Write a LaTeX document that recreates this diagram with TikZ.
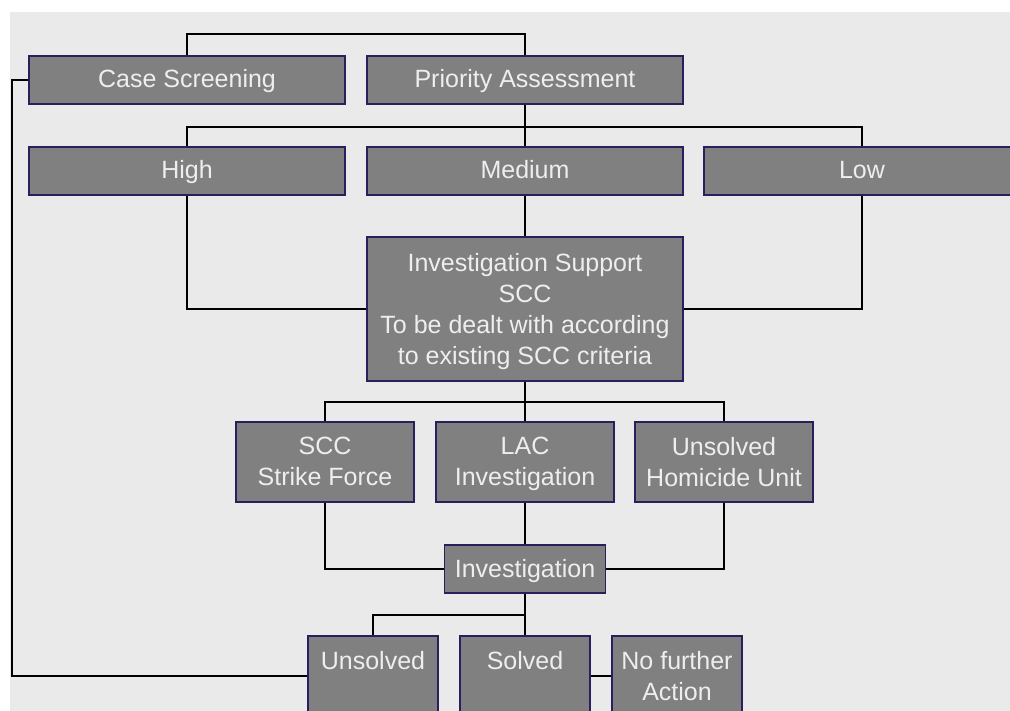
\documentclass[tikz,border=0pt]{standalone}
\usepackage{fontspec}
\setmainfont{Liberation Sans}
\usetikzlibrary{calc}

\definecolor{flowbg}{HTML}{EAEAEA}
\definecolor{flowfill}{HTML}{808080}
\definecolor{flowedge}{HTML}{2C1D5C}
\definecolor{flowtext}{HTML}{EEEEEE}

\newcommand\flowtextstyle{\fontsize{25}{31}\selectfont}
\newcommand\widewidth{316pt}
\newcommand\unitwidth{178pt}
\newcommand\outcomewidth{130pt}

\tikzset{
  flowbox/.style={draw=flowedge, line width=1.8pt, fill=flowfill, text=flowtext,
    font=\flowtextstyle, align=center, inner sep=0pt, text depth=1pt},
  widebox/.style={flowbox, minimum width=\widewidth, minimum height=48pt,
    text height=20pt, text depth=4pt},
  unitbox/.style={flowbox, minimum width=\unitwidth, minimum height=80pt},
  outcomebox/.style={flowbox, anchor=north, minimum width=\outcomewidth,
    inner ysep=15pt, text depth=100pt},
  flowline/.style={line width=1.8pt, black}
}

\begin{document}
\begin{tikzpicture}[x=1pt, y=-1pt]
  \useasboundingbox (0,0) rectangle (1010,711);
  \fill[flowbg] (10,12) rectangle (1010,711);

  \node[widebox] (screen) at (187,80) {Case Screening};
  \node[widebox] (priority) at (525,80) {Priority Assessment};
  \node[widebox] (high) at (187,171) {High};
  \node[widebox] (medium) at (525,171) {Medium};
  \node[widebox] (low) at (862,171) {Low};
  \node[flowbox, minimum width=\widewidth, minimum height=144pt] (support) at (525,309)
    {Investigation Support\\SCC\\To be dealt with according\\to existing SCC criteria};
  \node[unitbox] (strike) at (325,462) {SCC\\Strike Force};
  \node[unitbox] (lac) at (525,462) {LAC\\Investigation};
  \node[unitbox] (homicide) at (724,462) {Unsolved\\Homicide Unit};
  \node[flowbox, minimum width=161pt, minimum height=48pt, text height=20pt,
    text depth=4pt] (investigation) at (525,569) {Investigation};
  \node[outcomebox] (unsolved) at (373,635) {Unsolved};
  \node[outcomebox] (solved) at (525,635) {Solved};
  \node[outcomebox] (nofurther) at (677,635) {No further\\Action};

  \draw[flowline] (screen.north) -- ++(0,-21) -| (priority.north);
  \draw[flowline] (screen.west) -- ++(-16,0) |- ($(unsolved.north west)+(0,41)$);
  \draw[flowline] (priority.south) -- ++(0,22) coordinate (split) -| (high.north);
  \draw[flowline] (split) -| (low.north);
  \draw[flowline] (split) -- (medium.north);
  \draw[flowline] (high.south) |- (support.west);
  \draw[flowline] (low.south) |- (support.east);
  \draw[flowline] (medium.south) -- (support.north);
  \draw[flowline] (support.south) -- ++(0,20) coordinate (branch) -| (strike.north);
  \draw[flowline] (branch) -| (homicide.north);
  \draw[flowline] (branch) -- (lac.north);
  \draw[flowline] (strike.south) |- (investigation.west);
  \draw[flowline] (homicide.south) |- (investigation.east);
  \draw[flowline] (lac.south) -- (investigation.north);
  \draw[flowline] (investigation.south) -- ++(0,21) coordinate (result) -| (unsolved.north);
  \draw[flowline] (result) -- (solved.north);
  \draw[flowline] ($(solved.north east)+(0,41)$) -- ($(nofurther.north west)+(0,41)$);
\end{tikzpicture}
\end{document}
